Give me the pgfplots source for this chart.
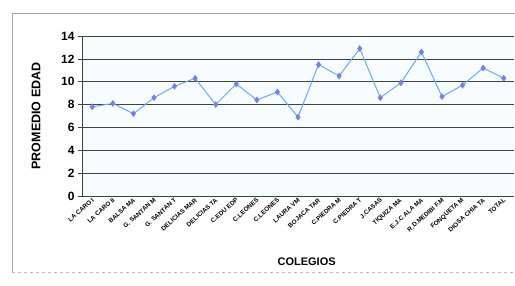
\documentclass[border=0pt]{standalone}
\usepackage{graphicx}
\usepackage{pgfplots}
\pgfplotsset{compat=1.18}
\usepackage{fontspec}
\setmainfont{Liberation Sans}
\definecolor{linec}{RGB}{110,170,235}
\definecolor{markc}{RGB}{120,130,220}
\definecolor{gridc}{RGB}{60,70,60}
\newcommand{\rl}[1]{\rotatebox{42}{#1}}
\begin{document}
\begin{tikzpicture}
\path[use as bounding box] (0pt,0pt) rectangle (515pt,286pt);
\draw[gray!70, line width=0.6pt] (12pt,14pt) -- (12pt,273pt) -- (515pt,273pt);
\draw[gray!50, dashed, line width=0.5pt] (12pt,14pt) -- (515pt,14pt);
\begin{axis}[
  at={(82pt,90pt)}, anchor=south west,
  scale only axis, width=432pt, height=160pt,
  xmin=-0.5, xmax=20.5, ymin=0, ymax=14,
  ytick={0,2,...,14},
  xtick={0,...,20},
  xticklabels={\rl{LA CARO I},\rl{LA CARO II},\rl{BALSA MA},\rl{G. SANTAN M},\rl{G. SANTAN T},\rl{DELICIAS MAR},\rl{DELICIAS TA},\rl{C.EDU EDP},\rl{C.LEONES},\rl{C.LEONES},\rl{LAURA VM},\rl{BOJACA TAR},\rl{C.PIEDRA M},\rl{C.PIEDRA T},\rl{J.CASAS},\rl{TIQUIZA MA},\rl{E.J.C ALA MA},\rl{R.D.MEDIBI F.M},\rl{FONQUETA M},\rl{DIOSA CHIA TA},\rl{TOTAL}},
  xticklabel style={anchor=north east, font=\fontsize{6.3}{7}\selectfont\bfseries, inner sep=0.5pt, xshift=3pt, yshift=-1pt},
  yticklabel style={font=\fontsize{12}{13}\selectfont\bfseries},
  /pgf/number format/assume math mode=true,
  ymajorgrids, major grid style={gridc, line width=0.7pt},
  axis x line*=bottom, axis y line*=left,
  axis line style={gridc, line width=0.7pt},
  tick style={gridc, line width=0.6pt},
  xtick style={draw=none},
  ytick align=outside, major tick length=4pt,
  axis background/.style={fill=cyan!3},
  xlabel={COLEGIOS},
  xlabel style={font=\fontsize{11}{12}\selectfont\bfseries, at={(axis description cs:0.52,0)}, anchor=north, yshift=-58pt},
  ylabel={PROMEDIO EDAD},
  ylabel style={font=\fontsize{12.5}{14}\selectfont\bfseries, at={(axis description cs:-0.088,0.5)}, anchor=south},
  clip=false,
]
\addplot[linec, line width=1pt, mark=diamond*, mark size=2.6pt, mark options={fill=markc, draw=markc}]
coordinates {(0,7.8)(1,8.1)(2,7.2)(3,8.6)(4,9.6)(5,10.3)(6,8.0)(7,9.8)(8,8.4)(9,9.1)(10,6.9)(11,11.5)(12,10.5)(13,12.9)(14,8.6)(15,9.9)(16,12.6)(17,8.7)(18,9.7)(19,11.2)(20,10.3)};
\end{axis}
\end{tikzpicture}
\end{document}
